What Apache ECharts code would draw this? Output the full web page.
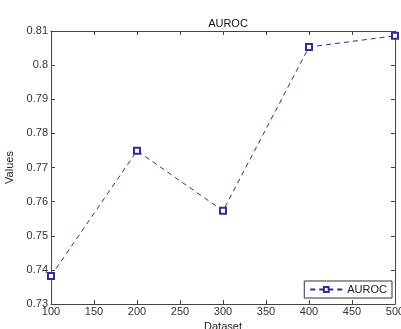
<!DOCTYPE html>
<html>
<head>
<meta charset="utf-8">
<script src="https://cdn.jsdelivr.net/npm/echarts@6/dist/echarts.min.js"></script>
<style>html,body{margin:0;padding:0;background:#fff}#c{width:401px;height:329px}</style>
</head>
<body>
<div id="c"></div>
<script>
var datasets = [100, 200, 300, 400, 500];
var aurocValues = [0.7382, 0.7749, 0.7573, 0.8053, 0.8086];
var seriesName = 'AUROC';
var titleText = 'AUROC';
var xName = 'Dataset';
var yName = 'Values';

var chart = echarts.init(document.getElementById('c'), null, {renderer: 'canvas'});
var font = 'Liberation Sans, Arial, sans-serif';
var lineColor = '#2e2e96';
var axisCol = '#444';
var pairs = datasets.map(function (d, i) { return [d, aurocValues[i]]; });
var hiddenAxisBase = {
  axisLine: {show: true, lineStyle: {color: axisCol, width: 1}},
  axisTick: {show: true, inside: true, length: 4, lineStyle: {color: axisCol}},
  axisLabel: {show: false},
  splitLine: {show: false}
};
chart.setOption({
  backgroundColor: '#fff',
  animation: false,
  title: {
    text: titleText, left: 223, top: 13, textAlign: 'center',
    textStyle: {fontFamily: font, fontSize: 11, fontWeight: 'normal', color: '#111'}
  },
  grid: {left: 51, right: 6, top: 31, bottom: 25, containLabel: false, outerBoundsMode: 'none'},
  legend: {
    data: [seriesName], right: 9, bottom: 31, orient: 'horizontal',
    backgroundColor: '#fff', borderColor: '#333', borderWidth: 1, borderRadius: 0,
    padding: [3, 5, 3, 5], itemWidth: 32, itemHeight: 6, itemGap: 4,
    textStyle: {fontFamily: font, fontSize: 11, color: '#222'}
  },
  xAxis: [{
    type: 'value', min: 100, max: 500, interval: 50, position: 'bottom',
    name: xName, nameLocation: 'middle', nameGap: 16,
    nameTextStyle: {fontFamily: font, fontSize: 11, color: '#222'},
    axisLine: {show: true, onZero: false, lineStyle: {color: axisCol, width: 1}},
    axisTick: {show: true, inside: true, length: 4, lineStyle: {color: axisCol}},
    axisLabel: {fontFamily: font, fontSize: 11, color: '#333', margin: 2, showMaxLabel: true, showMinLabel: true},
    splitLine: {show: false}
  }, Object.assign({type: 'value', min: 100, max: 500, interval: 50, position: 'top'}, hiddenAxisBase)],
  yAxis: [{
    type: 'value', min: 0.73, max: 0.81, interval: 0.01, position: 'left',
    name: yName, nameLocation: 'middle', nameGap: 29,
    nameTextStyle: {fontFamily: font, fontSize: 11, color: '#222'},
    axisLine: {show: true, onZero: false, lineStyle: {color: axisCol, width: 1}},
    axisTick: {show: true, inside: true, length: 4, lineStyle: {color: axisCol}},
    axisLabel: {fontFamily: font, fontSize: 11, color: '#333', margin: 3,
      formatter: function (v) { return String(parseFloat(v.toFixed(2))); }},
    splitLine: {show: false}
  }, Object.assign({type: 'value', min: 0.73, max: 0.81, interval: 0.01, position: 'right'}, hiddenAxisBase)],
  series: [{
    name: seriesName, type: 'line', data: pairs,
    symbol: 'emptyRect', symbolSize: 6,
    lineStyle: {color: lineColor, width: 1, type: [5, 4]},
    itemStyle: {color: lineColor, borderColor: lineColor, borderWidth: 1},
    clip: false
  }]
});
</script>
</body>
</html>
